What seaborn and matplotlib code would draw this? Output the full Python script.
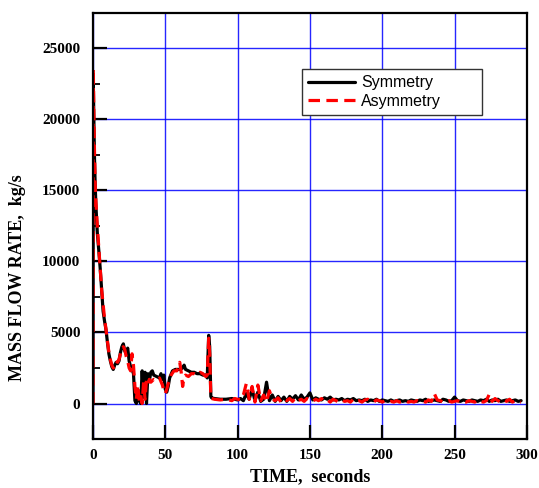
import numpy as np
import pandas as pd
import matplotlib
matplotlib.use("Agg")
import matplotlib.pyplot as plt
from matplotlib.ticker import MultipleLocator
from matplotlib.lines import Line2D
import seaborn as sns

# ---- data ----
t_early_sym = [0, 0.2, 0.6, 1, 1.5, 2, 3, 4, 5, 6, 7, 8, 9, 10, 11, 12, 13, 14, 15, 16,
               17, 18, 19, 20, 21, 22, 23, 24, 25, 26, 27, 28, 29, 30, 31, 32, 33, 34, 35,
               36, 37, 38, 39, 40, 41, 42, 44, 46, 47, 48, 49, 50, 51, 52, 53, 55, 57, 60,
               62, 63, 64, 66, 68, 70, 72, 74, 76, 78, 79, 80, 80.7, 81.5, 82, 84, 88, 92, 96, 98]
v_early_sym = [0, 22800, 20000, 17500, 15500, 14000, 12000, 10800, 9500, 8000, 6500, 5800,
               5200, 4300, 3500, 3000, 2600, 2400, 2700, 2900, 2800, 3000, 3600, 4000, 4200,
               3700, 3500, 3900, 3000, 2600, 2400, 2100, 200, 0, 900, 200, 0, 2300, 400, 2200,
               0, 2100, 1600, 2200, 2300, 2000, 1900, 1800, 2100, 1700, 2000, 1000, 800, 1200,
               1800, 2300, 2400, 2400, 2500, 2700, 2400, 2300, 2200, 2200, 2100, 2100, 2000,
               2000, 1800, 4800, 4000, 500, 400, 350, 300, 300, 350, 300]

t_early_asym = [0, 0.2, 0.6, 1, 1.5, 2, 3, 4, 5, 6, 7, 8, 9, 10, 11, 12, 13, 14, 15, 16,
                17, 18, 19, 20, 21, 22, 23, 24, 25, 26, 27, 28, 29, 30, 31, 32, 33, 34, 35,
                36, 37, 38, 39, 40, 42, 44, 46, 48, 49, 50, 51, 52, 54, 56, 58, 60, 61, 62,
                63, 64, 66, 68, 70, 72, 74, 76, 78, 79, 80, 80.7, 81.5, 82, 84, 88, 92, 96, 98]
v_early_asym = [0, 23600, 20500, 18000, 15500, 14300, 12500, 11000, 9500, 8000, 7000, 6000,
                5200, 4400, 3600, 3100, 2700, 2500, 2600, 3000, 2900, 3100, 3500, 3800, 4000,
                3800, 3300, 3000, 2500, 2300, 3500, 2700, 1200, 300, 1300, 200, 600, 0, 1500,
                300, 1700, 1400, 1700, 1500, 1700, 1600, 1800, 1300, 900, 700, 1000, 1400,
                2000, 2300, 2300, 2900, 2200, 1200, 1900, 2000, 1900, 2100, 2100, 2000, 2200,
                2100, 1900, 2000, 4600, 3500, 400, 350, 300, 250, 300, 200, 350]

t_late = list(range(100, 298, 2))
v_late_sym = [250, 350, 200, 700, 300, 1000, 200, 800, 150, 300, 1500, 200, 600, 150, 500,
              200, 450, 150, 500, 300, 550, 250, 600, 300, 450, 750, 250, 400, 300, 250, 400,
              300, 450, 250, 300, 250, 350, 200, 300, 250, 350, 200, 250, 200, 300, 150, 250,
              200, 300, 150, 250, 200, 150, 250, 150, 200, 250, 150, 200, 150, 250, 200, 150,
              250, 200, 300, 150, 200, 250, 200, 150, 300, 250, 150, 200, 450, 200, 150, 250,
              200, 150, 250, 200, 150, 250, 200, 300, 150, 250, 200, 300, 150, 200, 250, 150,
              200, 250, 150, 200]
v_late_asym = [300, 250, 600, 1400, 300, 1200, 100, 1300, 200, 600, 100, 900, 300, 200, 400,
               100, 300, 200, 350, 150, 400, 200, 300, 150, 350, 200, 150, 300, 200, 350, 150,
               250, 100, 300, 200, 100, 250, 150, 200, 100, 300, 150, 200, 100, 250, 300, 150,
               100, 250, 200, 100, 200, 100, 150, 100, 200, 100, 150, 200, 100, 150, 100, 200,
               100, 150, 100, 250, 150, 700, 250, 200, 100, 150, 200, 100, 150, 200, 100, 150,
               100, 200, 150, 100, 250, 150, 100, 200, 650, 150, 350, 200, 100, 250, 150, 300,
               100, 200, 150, 100]

series_names = ["Symmetry", "Asymmetry"]
x_ticks = [0, 50, 100, 150, 200, 250, 300]
y_ticks = [0, 5000, 10000, 15000, 20000, 25000]

# ---- build table ----
t_sym = t_early_sym + t_late
v_sym = v_early_sym + v_late_sym
t_asym = t_early_asym + t_late
v_asym = v_early_asym + v_late_asym
df = pd.concat([
    pd.DataFrame({"t": t_sym, "v": v_sym, "series": series_names[0]}),
    pd.DataFrame({"t": t_asym, "v": v_asym, "series": series_names[1]}),
], ignore_index=True)

sns.set_style("white")
plt.rcParams["font.family"] = ["Liberation Serif", "DejaVu Serif"]
plt.rcParams["text.color"] = "black"
plt.rcParams["axes.labelcolor"] = "black"
plt.rcParams["xtick.color"] = "black"
plt.rcParams["ytick.color"] = "black"

fig = plt.figure(figsize=(5.39, 4.88), dpi=100)
ax = fig.add_axes([0.1725, 0.1004, 0.805, 0.873])

LW = 2.3
DASH = (3.6, 2.0)
sns.lineplot(data=df, x="t", y="v", hue="series", style="series",
             palette={series_names[0]: "black", series_names[1]: "#ff0000"},
             dashes={series_names[0]: "", series_names[1]: DASH},
             sort=False, estimator=None, linewidth=LW, ax=ax, legend=False)

ax.set_xlim(0, 300)
ax.set_ylim(-2500, 27500)
ax.set_xticks(x_ticks)
ax.set_yticks(y_ticks)
ax.yaxis.set_minor_locator(MultipleLocator(2500))
ax.grid(True, which="major", color="#0000ff", linewidth=1.0, alpha=0.85)
ax.set_axisbelow(True)
for s in ax.spines.values():
    s.set_color("black")
    s.set_linewidth(1.6)

ax.tick_params(axis="both", which="major", direction="in", length=10, width=1.6,
               labelsize=11, colors="black", labelcolor="black")
ax.tick_params(axis="y", which="minor", direction="in", length=5, width=1.3,
               left=True)
ax.tick_params(axis="x", which="major", bottom=True, pad=7)
ax.tick_params(axis="y", which="major", left=True, pad=9)
for lab in ax.get_xticklabels() + ax.get_yticklabels():
    lab.set_fontweight("bold")
    lab.set_color("black")

ax.set_xlabel("TIME,  seconds", fontsize=13, fontweight="bold", labelpad=5, color="black")
ax.set_ylabel("MASS FLOW RATE,  kg/s", fontsize=13, fontweight="bold", color="black")
ax.yaxis.set_label_coords(-0.155, 0.378)

handles = [Line2D([], [], color="black", linewidth=LW),
           Line2D([], [], color="#ff0000", linewidth=LW, dashes=DASH)]
leg = ax.legend(handles, series_names, loc="upper left",
                bbox_to_anchor=(0.4816, 0.758, 0.4147, 0.1105), mode="expand",
                prop={"family": ["Liberation Sans", "DejaVu Sans"], "size": 11.5},
                frameon=True, fancybox=False, shadow=False, framealpha=1,
                handlelength=2.9, handletextpad=0.4, borderpad=0.4, labelspacing=0.2,
                borderaxespad=0)
leg.get_frame().set_edgecolor("#333333")
leg.get_frame().set_linewidth(1.0)
for txt in leg.get_texts():
    txt.set_color("black")

fig.savefig("out.png", dpi=100)
